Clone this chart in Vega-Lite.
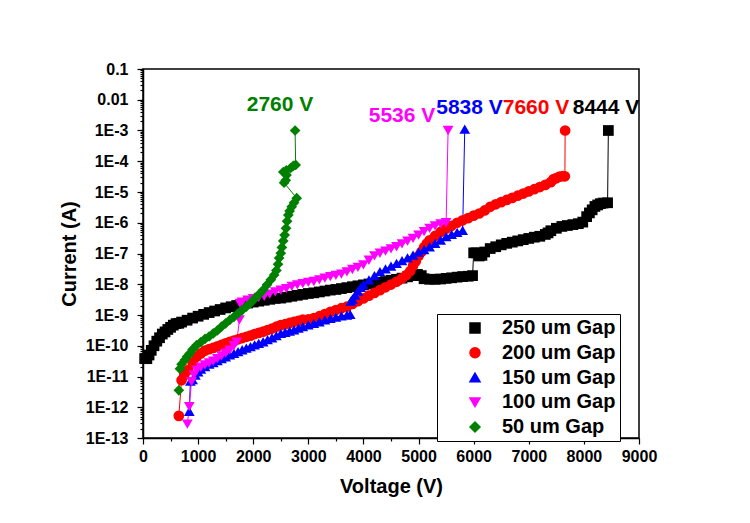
{
 "$schema": "https://vega.github.io/schema/vega-lite/v6.json",
 "width": 496,
 "height": 369,
 "autosize": {"type": "none"},
 "padding": {"left": 143, "top": 69, "right": 111, "bottom": 85},
 "background": "white",
 "config": {
  "font": "Liberation Sans",
  "view": {"stroke": "black", "strokeWidth": 1.5},
  "axis": {"labelFont": "Liberation Sans", "labelFontWeight": "bold", "labelColor": "black", "titleFont": "Liberation Sans", "titleFontWeight": "bold", "titleColor": "black", "domainColor": "black", "tickColor": "black", "grid": false, "domainWidth": 1.5, "tickWidth": 1.2}
 },
 "datasets": {
  "iv": [
   {"gap":"250 um Gap","V":30,"I":3.8e-11},{"gap":"250 um Gap","V":70,"I":3.8e-11},{"gap":"250 um Gap","V":110,"I":5.0e-11},{"gap":"250 um Gap","V":150,"I":7.1e-11},{"gap":"250 um Gap","V":200,"I":1.0e-10},{"gap":"250 um Gap","V":250,"I":1.41e-10},{"gap":"250 um Gap","V":300,"I":1.82e-10},{"gap":"250 um Gap","V":350,"I":2.4e-10},{"gap":"250 um Gap","V":400,"I":2.82e-10},{"gap":"250 um Gap","V":450,"I":3.39e-10},{"gap":"250 um Gap","V":500,"I":3.98e-10},{"gap":"250 um Gap","V":550,"I":4.68e-10},{"gap":"250 um Gap","V":600,"I":5.25e-10},{"gap":"250 um Gap","V":650,"I":5.37e-10},{"gap":"250 um Gap","V":700,"I":5.89e-10},{"gap":"250 um Gap","V":800,"I":6.76e-10},{"gap":"250 um Gap","V":900,"I":7.94e-10},{"gap":"250 um Gap","V":1000,"I":9.12e-10},{"gap":"250 um Gap","V":1100,"I":1.05e-9},{"gap":"250 um Gap","V":1200,"I":1.2e-9},{"gap":"250 um Gap","V":1300,"I":1.35e-9},{"gap":"250 um Gap","V":1400,"I":1.51e-9},{"gap":"250 um Gap","V":1500,"I":1.7e-9},{"gap":"250 um Gap","V":1600,"I":1.86e-9},{"gap":"250 um Gap","V":1700,"I":2.04e-9},{"gap":"250 um Gap","V":1800,"I":2.24e-9},{"gap":"250 um Gap","V":1900,"I":2.45e-9},{"gap":"250 um Gap","V":2000,"I":2.63e-9},{"gap":"250 um Gap","V":2100,"I":2.82e-9},{"gap":"250 um Gap","V":2200,"I":3.02e-9},{"gap":"250 um Gap","V":2300,"I":3.24e-9},{"gap":"250 um Gap","V":2400,"I":3.47e-9},{"gap":"250 um Gap","V":2500,"I":3.55e-9},{"gap":"250 um Gap","V":2600,"I":3.8e-9},{"gap":"250 um Gap","V":2700,"I":4.07e-9},{"gap":"250 um Gap","V":2800,"I":4.37e-9},{"gap":"250 um Gap","V":2900,"I":4.68e-9},{"gap":"250 um Gap","V":3000,"I":5.01e-9},{"gap":"250 um Gap","V":3100,"I":5.25e-9},{"gap":"250 um Gap","V":3200,"I":5.62e-9},{"gap":"250 um Gap","V":3300,"I":6.03e-9},{"gap":"250 um Gap","V":3400,"I":6.46e-9},{"gap":"250 um Gap","V":3500,"I":6.76e-9},{"gap":"250 um Gap","V":3600,"I":7.24e-9},{"gap":"250 um Gap","V":3700,"I":7.76e-9},{"gap":"250 um Gap","V":3800,"I":8.32e-9},{"gap":"250 um Gap","V":3900,"I":8.91e-9},{"gap":"250 um Gap","V":4000,"I":9.55e-9},{"gap":"250 um Gap","V":4100,"I":1.02e-8},{"gap":"250 um Gap","V":4200,"I":1.07e-8},{"gap":"250 um Gap","V":4300,"I":1.15e-8},{"gap":"250 um Gap","V":4400,"I":1.23e-8},{"gap":"250 um Gap","V":4500,"I":1.35e-8},{"gap":"250 um Gap","V":4600,"I":1.45e-8},{"gap":"250 um Gap","V":4700,"I":1.58e-8},{"gap":"250 um Gap","V":4800,"I":1.74e-8},{"gap":"250 um Gap","V":4900,"I":1.91e-8},{"gap":"250 um Gap","V":4980,"I":2.09e-8},{"gap":"250 um Gap","V":5050,"I":1.91e-8},{"gap":"250 um Gap","V":5100,"I":1.51e-8},{"gap":"250 um Gap","V":5200,"I":1.45e-8},{"gap":"250 um Gap","V":5300,"I":1.45e-8},{"gap":"250 um Gap","V":5400,"I":1.48e-8},{"gap":"250 um Gap","V":5500,"I":1.55e-8},{"gap":"250 um Gap","V":5600,"I":1.62e-8},{"gap":"250 um Gap","V":5700,"I":1.7e-8},{"gap":"250 um Gap","V":5800,"I":1.78e-8},{"gap":"250 um Gap","V":5900,"I":1.82e-8},{"gap":"250 um Gap","V":5980,"I":1.91e-8},{"gap":"250 um Gap","V":6000,"I":1.05e-7},{"gap":"250 um Gap","V":6050,"I":1.05e-7},{"gap":"250 um Gap","V":6100,"I":8.3e-8},{"gap":"250 um Gap","V":6150,"I":8.7e-8},{"gap":"250 um Gap","V":6200,"I":1.12e-7},{"gap":"250 um Gap","V":6300,"I":1.45e-7},{"gap":"250 um Gap","V":6400,"I":1.66e-7},{"gap":"250 um Gap","V":6500,"I":1.91e-7},{"gap":"250 um Gap","V":6600,"I":2.14e-7},{"gap":"250 um Gap","V":6700,"I":2.34e-7},{"gap":"250 um Gap","V":6800,"I":2.57e-7},{"gap":"250 um Gap","V":6900,"I":2.82e-7},{"gap":"250 um Gap","V":7000,"I":3.09e-7},{"gap":"250 um Gap","V":7100,"I":3.39e-7},{"gap":"250 um Gap","V":7200,"I":3.63e-7},{"gap":"250 um Gap","V":7300,"I":4.17e-7},{"gap":"250 um Gap","V":7350,"I":4.68e-7},{"gap":"250 um Gap","V":7400,"I":5.5e-7},{"gap":"250 um Gap","V":7500,"I":6.61e-7},{"gap":"250 um Gap","V":7600,"I":7.59e-7},{"gap":"250 um Gap","V":7700,"I":8.13e-7},{"gap":"250 um Gap","V":7800,"I":8.71e-7},{"gap":"250 um Gap","V":7900,"I":9.33e-7},{"gap":"250 um Gap","V":7980,"I":1.05e-6},{"gap":"250 um Gap","V":8050,"I":1.58e-6},{"gap":"250 um Gap","V":8100,"I":2.09e-6},{"gap":"250 um Gap","V":8150,"I":2.63e-6},{"gap":"250 um Gap","V":8200,"I":3.39e-6},{"gap":"250 um Gap","V":8250,"I":3.8e-6},{"gap":"250 um Gap","V":8300,"I":4.17e-6},{"gap":"250 um Gap","V":8350,"I":4.37e-6},{"gap":"250 um Gap","V":8430,"I":4.47e-6},{"gap":"250 um Gap","V":8444,"I":1e-3},
   {"gap":"200 um Gap","V":650,"I":5.25e-13},{"gap":"200 um Gap","V":700,"I":7.59e-12},{"gap":"200 um Gap","V":750,"I":1.12e-11},{"gap":"200 um Gap","V":820,"I":1.62e-11},{"gap":"200 um Gap","V":900,"I":2.82e-11},{"gap":"200 um Gap","V":975,"I":4.37e-11},{"gap":"200 um Gap","V":1050,"I":5.62e-11},{"gap":"200 um Gap","V":1125,"I":6.92e-11},{"gap":"200 um Gap","V":1200,"I":7.76e-11},{"gap":"200 um Gap","V":1275,"I":8.51e-11},{"gap":"200 um Gap","V":1350,"I":9.55e-11},{"gap":"200 um Gap","V":1425,"I":1.07e-10},{"gap":"200 um Gap","V":1500,"I":1.2e-10},{"gap":"200 um Gap","V":1575,"I":1.35e-10},{"gap":"200 um Gap","V":1650,"I":1.48e-10},{"gap":"200 um Gap","V":1725,"I":1.62e-10},{"gap":"200 um Gap","V":1800,"I":1.78e-10},{"gap":"200 um Gap","V":1875,"I":1.95e-10},{"gap":"200 um Gap","V":1950,"I":2.14e-10},{"gap":"200 um Gap","V":2025,"I":2.4e-10},{"gap":"200 um Gap","V":2100,"I":2.63e-10},{"gap":"200 um Gap","V":2180,"I":2.88e-10},{"gap":"200 um Gap","V":2260,"I":3.24e-10},{"gap":"200 um Gap","V":2340,"I":3.63e-10},{"gap":"200 um Gap","V":2420,"I":4.17e-10},{"gap":"200 um Gap","V":2500,"I":4.68e-10},{"gap":"200 um Gap","V":2580,"I":5.01e-10},{"gap":"200 um Gap","V":2660,"I":5.5e-10},{"gap":"200 um Gap","V":2740,"I":6.03e-10},{"gap":"200 um Gap","V":2820,"I":6.46e-10},{"gap":"200 um Gap","V":2900,"I":7.08e-10},{"gap":"200 um Gap","V":3000,"I":7.24e-10},{"gap":"200 um Gap","V":3100,"I":7.94e-10},{"gap":"200 um Gap","V":3200,"I":9.12e-10},{"gap":"200 um Gap","V":3300,"I":1.07e-9},{"gap":"200 um Gap","V":3400,"I":1.26e-9},{"gap":"200 um Gap","V":3500,"I":1.45e-9},{"gap":"200 um Gap","V":3600,"I":1.66e-9},{"gap":"200 um Gap","V":3700,"I":1.86e-9},{"gap":"200 um Gap","V":3800,"I":2.29e-9},{"gap":"200 um Gap","V":3900,"I":2.82e-9},{"gap":"200 um Gap","V":4000,"I":3.47e-9},{"gap":"200 um Gap","V":4100,"I":4.27e-9},{"gap":"200 um Gap","V":4200,"I":5.25e-9},{"gap":"200 um Gap","V":4300,"I":6.46e-9},{"gap":"200 um Gap","V":4400,"I":7.94e-9},{"gap":"200 um Gap","V":4500,"I":9.77e-9},{"gap":"200 um Gap","V":4600,"I":1.2e-8},{"gap":"200 um Gap","V":4700,"I":1.55e-8},{"gap":"200 um Gap","V":4780,"I":2.0e-8},{"gap":"200 um Gap","V":4850,"I":2.69e-8},{"gap":"200 um Gap","V":4900,"I":3.98e-8},{"gap":"200 um Gap","V":4950,"I":5.62e-8},{"gap":"200 um Gap","V":5000,"I":8.32e-8},{"gap":"200 um Gap","V":5050,"I":1.12e-7},{"gap":"200 um Gap","V":5100,"I":1.58e-7},{"gap":"200 um Gap","V":5150,"I":2.09e-7},{"gap":"200 um Gap","V":5200,"I":2.69e-7},{"gap":"200 um Gap","V":5300,"I":3.72e-7},{"gap":"200 um Gap","V":5400,"I":5.01e-7},{"gap":"200 um Gap","V":5500,"I":6.46e-7},{"gap":"200 um Gap","V":5600,"I":7.94e-7},{"gap":"200 um Gap","V":5700,"I":1.0e-6},{"gap":"200 um Gap","V":5800,"I":1.2e-6},{"gap":"200 um Gap","V":5900,"I":1.41e-6},{"gap":"200 um Gap","V":6000,"I":1.7e-6},{"gap":"200 um Gap","V":6100,"I":2.0e-6},{"gap":"200 um Gap","V":6200,"I":2.51e-6},{"gap":"200 um Gap","V":6300,"I":3.31e-6},{"gap":"200 um Gap","V":6400,"I":3.98e-6},{"gap":"200 um Gap","V":6500,"I":4.68e-6},{"gap":"200 um Gap","V":6600,"I":5.5e-6},{"gap":"200 um Gap","V":6700,"I":6.46e-6},{"gap":"200 um Gap","V":6800,"I":7.59e-6},{"gap":"200 um Gap","V":6900,"I":8.91e-6},{"gap":"200 um Gap","V":7000,"I":1.05e-5},{"gap":"200 um Gap","V":7100,"I":1.23e-5},{"gap":"200 um Gap","V":7200,"I":1.45e-5},{"gap":"200 um Gap","V":7300,"I":1.7e-5},{"gap":"200 um Gap","V":7400,"I":2.09e-5},{"gap":"200 um Gap","V":7450,"I":2.63e-5},{"gap":"200 um Gap","V":7500,"I":2.82e-5},{"gap":"200 um Gap","V":7560,"I":3.16e-5},{"gap":"200 um Gap","V":7620,"I":3.31e-5},{"gap":"200 um Gap","V":7655,"I":3.24e-5},{"gap":"200 um Gap","V":7660,"I":1e-3},
   {"gap":"150 um Gap","V":840,"I":7.41e-13},{"gap":"150 um Gap","V":860,"I":7.08e-12},{"gap":"150 um Gap","V":900,"I":7.94e-12},{"gap":"150 um Gap","V":950,"I":1.12e-11},{"gap":"150 um Gap","V":1000,"I":1.41e-11},{"gap":"150 um Gap","V":1050,"I":1.74e-11},{"gap":"150 um Gap","V":1125,"I":2.09e-11},{"gap":"150 um Gap","V":1200,"I":2.51e-11},{"gap":"150 um Gap","V":1275,"I":2.82e-11},{"gap":"150 um Gap","V":1350,"I":3.31e-11},{"gap":"150 um Gap","V":1425,"I":3.8e-11},{"gap":"150 um Gap","V":1500,"I":4.37e-11},{"gap":"150 um Gap","V":1575,"I":5.01e-11},{"gap":"150 um Gap","V":1650,"I":5.62e-11},{"gap":"150 um Gap","V":1725,"I":6.46e-11},{"gap":"150 um Gap","V":1800,"I":7.41e-11},{"gap":"150 um Gap","V":1875,"I":8.32e-11},{"gap":"150 um Gap","V":1950,"I":9.33e-11},{"gap":"150 um Gap","V":2025,"I":1.07e-10},{"gap":"150 um Gap","V":2100,"I":1.2e-10},{"gap":"150 um Gap","V":2180,"I":1.35e-10},{"gap":"150 um Gap","V":2260,"I":1.58e-10},{"gap":"150 um Gap","V":2340,"I":1.82e-10},{"gap":"150 um Gap","V":2420,"I":2.14e-10},{"gap":"150 um Gap","V":2500,"I":2.51e-10},{"gap":"150 um Gap","V":2580,"I":2.75e-10},{"gap":"150 um Gap","V":2660,"I":3.02e-10},{"gap":"150 um Gap","V":2740,"I":3.31e-10},{"gap":"150 um Gap","V":2820,"I":3.72e-10},{"gap":"150 um Gap","V":2900,"I":4.17e-10},{"gap":"150 um Gap","V":3000,"I":4.79e-10},{"gap":"150 um Gap","V":3100,"I":5.37e-10},{"gap":"150 um Gap","V":3200,"I":6.03e-10},{"gap":"150 um Gap","V":3300,"I":6.92e-10},{"gap":"150 um Gap","V":3400,"I":7.76e-10},{"gap":"150 um Gap","V":3500,"I":8.51e-10},{"gap":"150 um Gap","V":3600,"I":9.33e-10},{"gap":"150 um Gap","V":3700,"I":1.0e-9},{"gap":"150 um Gap","V":3760,"I":1.05e-9},{"gap":"150 um Gap","V":3770,"I":2.82e-9},{"gap":"150 um Gap","V":3800,"I":3.31e-9},{"gap":"150 um Gap","V":3850,"I":4.47e-9},{"gap":"150 um Gap","V":3900,"I":6.03e-9},{"gap":"150 um Gap","V":3950,"I":7.94e-9},{"gap":"150 um Gap","V":4000,"I":9.77e-9},{"gap":"150 um Gap","V":4100,"I":1.38e-8},{"gap":"150 um Gap","V":4200,"I":1.91e-8},{"gap":"150 um Gap","V":4300,"I":2.57e-8},{"gap":"150 um Gap","V":4400,"I":3.16e-8},{"gap":"150 um Gap","V":4500,"I":3.89e-8},{"gap":"150 um Gap","V":4600,"I":4.79e-8},{"gap":"150 um Gap","V":4700,"I":5.89e-8},{"gap":"150 um Gap","V":4800,"I":7.24e-8},{"gap":"150 um Gap","V":4900,"I":8.91e-8},{"gap":"150 um Gap","V":5000,"I":1.1e-7},{"gap":"150 um Gap","V":5100,"I":1.35e-7},{"gap":"150 um Gap","V":5200,"I":1.66e-7},{"gap":"150 um Gap","V":5300,"I":2.14e-7},{"gap":"150 um Gap","V":5400,"I":2.75e-7},{"gap":"150 um Gap","V":5500,"I":3.55e-7},{"gap":"150 um Gap","V":5600,"I":4.17e-7},{"gap":"150 um Gap","V":5700,"I":4.9e-7},{"gap":"150 um Gap","V":5800,"I":5.62e-7},{"gap":"150 um Gap","V":5838,"I":1.1e-3},
   {"gap":"100 um Gap","V":805,"I":2.82e-13},{"gap":"100 um Gap","V":840,"I":1.05e-12},{"gap":"100 um Gap","V":880,"I":6.76e-12},{"gap":"100 um Gap","V":925,"I":1.12e-11},{"gap":"100 um Gap","V":975,"I":1.62e-11},{"gap":"100 um Gap","V":1050,"I":2.0e-11},{"gap":"100 um Gap","V":1125,"I":2.4e-11},{"gap":"100 um Gap","V":1200,"I":2.75e-11},{"gap":"100 um Gap","V":1275,"I":3.16e-11},{"gap":"100 um Gap","V":1350,"I":3.8e-11},{"gap":"100 um Gap","V":1425,"I":4.68e-11},{"gap":"100 um Gap","V":1500,"I":5.75e-11},{"gap":"100 um Gap","V":1575,"I":7.24e-11},{"gap":"100 um Gap","V":1650,"I":1.0e-10},{"gap":"100 um Gap","V":1700,"I":1.32e-10},{"gap":"100 um Gap","V":1750,"I":6.92e-10},{"gap":"100 um Gap","V":1760,"I":2.4e-9},{"gap":"100 um Gap","V":1800,"I":2.63e-9},{"gap":"100 um Gap","V":1900,"I":3.02e-9},{"gap":"100 um Gap","V":2000,"I":3.39e-9},{"gap":"100 um Gap","V":2100,"I":3.72e-9},{"gap":"100 um Gap","V":2200,"I":4.07e-9},{"gap":"100 um Gap","V":2300,"I":4.79e-9},{"gap":"100 um Gap","V":2400,"I":5.62e-9},{"gap":"100 um Gap","V":2500,"I":6.46e-9},{"gap":"100 um Gap","V":2600,"I":7.24e-9},{"gap":"100 um Gap","V":2700,"I":8.51e-9},{"gap":"100 um Gap","V":2800,"I":9.55e-9},{"gap":"100 um Gap","V":2900,"I":1.05e-8},{"gap":"100 um Gap","V":3000,"I":1.15e-8},{"gap":"100 um Gap","V":3100,"I":1.23e-8},{"gap":"100 um Gap","V":3200,"I":1.38e-8},{"gap":"100 um Gap","V":3300,"I":1.58e-8},{"gap":"100 um Gap","V":3400,"I":1.78e-8},{"gap":"100 um Gap","V":3500,"I":1.95e-8},{"gap":"100 um Gap","V":3600,"I":2.14e-8},{"gap":"100 um Gap","V":3700,"I":2.51e-8},{"gap":"100 um Gap","V":3800,"I":3.02e-8},{"gap":"100 um Gap","V":3900,"I":3.55e-8},{"gap":"100 um Gap","V":4000,"I":4.27e-8},{"gap":"100 um Gap","V":4100,"I":6.03e-8},{"gap":"100 um Gap","V":4200,"I":8.32e-8},{"gap":"100 um Gap","V":4300,"I":1.02e-7},{"gap":"100 um Gap","V":4400,"I":1.2e-7},{"gap":"100 um Gap","V":4500,"I":1.41e-7},{"gap":"100 um Gap","V":4600,"I":1.66e-7},{"gap":"100 um Gap","V":4700,"I":2.04e-7},{"gap":"100 um Gap","V":4800,"I":2.51e-7},{"gap":"100 um Gap","V":4900,"I":3.09e-7},{"gap":"100 um Gap","V":5000,"I":3.98e-7},{"gap":"100 um Gap","V":5100,"I":5.13e-7},{"gap":"100 um Gap","V":5200,"I":6.61e-7},{"gap":"100 um Gap","V":5300,"I":7.94e-7},{"gap":"100 um Gap","V":5400,"I":9.12e-7},{"gap":"100 um Gap","V":5500,"I":1.0e-6},{"gap":"100 um Gap","V":5536,"I":1e-3},
   {"gap":"50 um Gap","V":650,"I":3.55e-12},{"gap":"50 um Gap","V":670,"I":1.78e-11},{"gap":"50 um Gap","V":700,"I":2.51e-11},{"gap":"50 um Gap","V":760,"I":3.47e-11},{"gap":"50 um Gap","V":800,"I":4.47e-11},{"gap":"50 um Gap","V":850,"I":5.62e-11},{"gap":"50 um Gap","V":900,"I":7.59e-11},{"gap":"50 um Gap","V":975,"I":1.05e-10},{"gap":"50 um Gap","V":1050,"I":1.32e-10},{"gap":"50 um Gap","V":1125,"I":1.66e-10},{"gap":"50 um Gap","V":1200,"I":2.0e-10},{"gap":"50 um Gap","V":1275,"I":2.51e-10},{"gap":"50 um Gap","V":1350,"I":3.16e-10},{"gap":"50 um Gap","V":1425,"I":4.17e-10},{"gap":"50 um Gap","V":1500,"I":5.37e-10},{"gap":"50 um Gap","V":1575,"I":6.92e-10},{"gap":"50 um Gap","V":1650,"I":8.71e-10},{"gap":"50 um Gap","V":1725,"I":1.12e-9},{"gap":"50 um Gap","V":1800,"I":1.45e-9},{"gap":"50 um Gap","V":1875,"I":1.86e-9},{"gap":"50 um Gap","V":1950,"I":2.45e-9},{"gap":"50 um Gap","V":2025,"I":3.39e-9},{"gap":"50 um Gap","V":2100,"I":4.57e-9},{"gap":"50 um Gap","V":2180,"I":6.46e-9},{"gap":"50 um Gap","V":2250,"I":9.55e-9},{"gap":"50 um Gap","V":2320,"I":1.41e-8},{"gap":"50 um Gap","V":2380,"I":2.0e-8},{"gap":"50 um Gap","V":2420,"I":2.82e-8},{"gap":"50 um Gap","V":2450,"I":4.47e-8},{"gap":"50 um Gap","V":2470,"I":7.08e-8},{"gap":"50 um Gap","V":2500,"I":1.02e-7},{"gap":"50 um Gap","V":2520,"I":1.58e-7},{"gap":"50 um Gap","V":2545,"I":2.57e-7},{"gap":"50 um Gap","V":2570,"I":3.98e-7},{"gap":"50 um Gap","V":2595,"I":6.61e-7},{"gap":"50 um Gap","V":2615,"I":1.12e-6},{"gap":"50 um Gap","V":2637,"I":1.78e-6},{"gap":"50 um Gap","V":2660,"I":2.4e-6},{"gap":"50 um Gap","V":2698,"I":3.31e-6},{"gap":"50 um Gap","V":2740,"I":4.47e-6},{"gap":"50 um Gap","V":2789,"I":6.31e-6},{"gap":"50 um Gap","V":2560,"I":2.0e-5},{"gap":"50 um Gap","V":2590,"I":2.4e-5},{"gap":"50 um Gap","V":2604,"I":3.55e-5},{"gap":"50 um Gap","V":2546,"I":4.47e-5},{"gap":"50 um Gap","V":2600,"I":5.01e-5},{"gap":"50 um Gap","V":2680,"I":6.03e-5},{"gap":"50 um Gap","V":2728,"I":7.08e-5},{"gap":"50 um Gap","V":2770,"I":7.59e-5},{"gap":"50 um Gap","V":2760,"I":1e-3}
  ],
  "labels": [
   {"gap":"50 um Gap","V":2486,"I":6.8e-3,"label":"2760 V"},
   {"gap":"100 um Gap","V":4700,"I":2.95e-3,"label":"5536 V"},
   {"gap":"150 um Gap","V":5925,"I":5.2e-3,"label":"5838 V"},
   {"gap":"200 um Gap","V":7131,"I":5.2e-3,"label":"7660 V"},
   {"gap":"250 um Gap","V":8401,"I":5.2e-3,"label":"8444 V"}
  ]
 },
 "resolve": {"axis": {"x": "independent", "y": "independent"}},
 "layer": [
  {
   "data": {"name": "iv"},
   "mark": {"type": "line", "strokeWidth": 1},
   "encoding": {
    "x": {"field": "V", "type": "quantitative", "scale": {"domain": [0, 9000], "nice": false},
          "axis": {"orient": "bottom", "title": "Voltage (V)", "values": [0,1000,2000,3000,4000,5000,6000,7000,8000,9000], "format": "d", "labelFontSize": 16, "titleFontSize": 20, "tickSize": 6, "labelPadding": 4, "titlePadding": 12, "labelFlush": false, "labelOverlap": false}},
    "y": {"field": "I", "type": "quantitative", "scale": {"type": "log", "domain": [1e-13, 0.1], "nice": false},
          "axis": {"orient": "left", "title": "Current (A)", "values": [1e-13,1e-12,1e-11,1e-10,1e-9,1e-8,1e-7,1e-6,1e-5,1e-4,1e-3,0.01,0.1], "labelExpr": "datum.value > 0.05 ? '0.1' : datum.value > 0.005 ? '0.01' : '1E' + round(log(datum.value) / LN10)", "labelFontSize": 16, "titleFontSize": 20, "tickSize": 6, "labelPadding": 9, "titlePadding": 6, "labelOverlap": false, "labelFlush": false}},
    "color": {"field": "gap", "type": "nominal", "scale": {"domain": ["250 um Gap","200 um Gap","150 um Gap","100 um Gap","50 um Gap"], "range": ["#000000","#ff0000","#0000ff","#ff00ff","#008000"]}},
    "order": {"value": null}
   }
  },
  {
   "data": {"name": "iv"},
   "mark": {"type": "point", "filled": true, "opacity": 1, "size": 115, "strokeWidth": 0},
   "encoding": {
    "x": {"field": "V", "type": "quantitative", "axis": {"orient": "bottom", "values": [500,1500,2500,3500,4500,5500,6500,7500,8500], "labels": false, "domain": false, "tickSize": 3, "title": null}},
    "y": {"field": "I", "type": "quantitative", "axis": {"orient": "left", "tickCount": 200, "labels": false, "domain": false, "tickSize": 3, "title": null}},
    "color": {"field": "gap", "type": "nominal",
      "legend": {"orient": "none", "legendX": 294, "legendY": 245, "title": null, "labelFontSize": 20, "labelFont": "Liberation Sans", "labelFontWeight": "bold", "labelColor": "black", "padding": 4, "rowPadding": 4.75, "strokeColor": "black", "fillColor": "white", "symbolSize": 100, "symbolOffset": 24, "labelOffset": 17}},
    "shape": {"field": "gap", "type": "nominal", "scale": {"domain": ["250 um Gap","200 um Gap","150 um Gap","100 um Gap","50 um Gap"], "range": ["square","circle","triangle-up","triangle-down","diamond"]}, "legend": null}
   }
  },
  {
   "data": {"name": "labels"},
   "mark": {"type": "text", "fontSize": 21, "fontWeight": "bold", "font": "Liberation Sans", "align": "center", "baseline": "middle"},
   "encoding": {
    "x": {"field": "V", "type": "quantitative", "axis": null},
    "y": {"field": "I", "type": "quantitative", "axis": null},
    "text": {"field": "label"},
    "color": {"field": "gap", "type": "nominal"}
   }
  }
 ]
}
